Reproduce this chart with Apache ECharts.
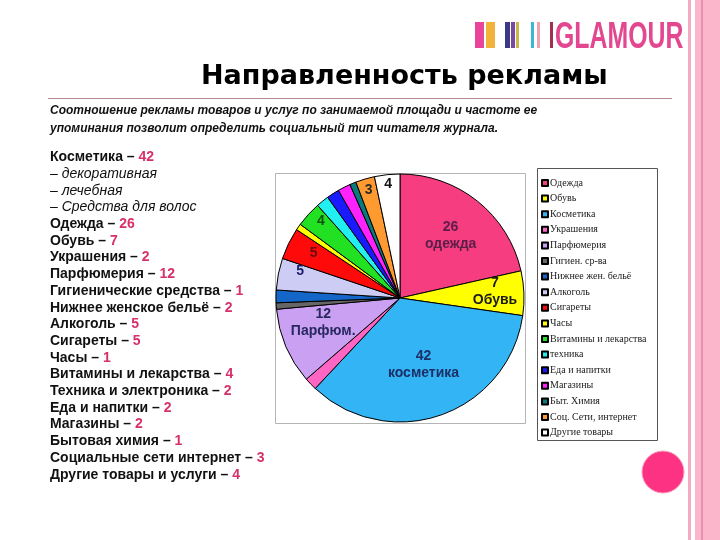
<!DOCTYPE html>
<html><head><meta charset="utf-8">
<script src="https://cdn.jsdelivr.net/npm/echarts@6/dist/echarts.min.js"></script>
<style>html,body{margin:0;padding:0;background:#fff}#c{width:720px;height:540px}</style>
</head><body><div id="c"></div>
<script>
// ---- data ----
const categories = ['Одежда','Обувь','Косметика','Украшения','Парфюмерия','Гигиен. ср-ва','Нижнее жен. бельё','Алкоголь','Сигареты','Часы','Витамины и лекарства','техника','Еда и напитки','Магазины','Быт. Химия','Соц. Сети, интернет','Другие товары'];
const values = [26,7,42,2,12,1,2,5,5,1,4,2,2,2,1,3,4];
const sliceLabels = ['одежда','Обувь','косметика',null,'Парфюм.',null,null,'','',null,'',null,null,null,null,'',''];
const listNames = ['Косметика','– декоративная','– лечебная','– Средства для волос','Одежда','Обувь','Украшения','Парфюмерия','Гигиенические средства','Нижнее женское бельё','Алкоголь','Сигареты','Часы','Витамины и лекарства','Техника и электроника','Еда и напитки','Магазины','Бытовая химия','Социальные сети интернет','Другие товары и услуги'];
const listValues = [42,null,null,null,26,7,2,12,1,2,5,5,1,4,2,2,2,1,3,4];
const titleText = 'Направленность рекламы';
const subtitleText = 'Соотношение рекламы товаров и услуг по занимаемой площади и частоте ее\nупоминания позволит определить социальный тип читателя журнала.';

// ---- styles ----
const sliceColors = ['#f53d80','#ffff00','#33b5f5','#ff66c4','#c9a0f2','#666666','#1467c8','#ccccf5','#ff0a0a','#ffff00','#22e022','#22f0f0','#1a1aff','#ff22ff','#0a7a7a','#ff9a30','#ffffff'];
const labelColors = ['#5a1e48','#1a1a1a','#1c2f66',null,'#282860',null,null,'#1c1c66','#6a0a0a',null,'#0e500e',null,null,null,null,'#2a2a2a','#111'];
const labelOffsets = [[10,-12],[30,-4],[2,5],null,[-17,-1],null,null,[-36,-14],[-28,-16],null,[-31,-33],null,null,null,null,[-13,-45],[-5,-49]];

const chart = echarts.init(document.getElementById('c'), null, {renderer:'canvas'});

const pieData = categories.map((n,i)=>{
  const d = {name:n, value:values[i], itemStyle:{color:sliceColors[i]}};
  if (sliceLabels[i] === null) {
    d.label = {show:false};
  } else {
    d.label = {show:true, position:'inside', offset:labelOffsets[i], color:labelColors[i],
      formatter: sliceLabels[i] ? '{c}\n' + sliceLabels[i] : '{c}'};
  }
  return d;
});

let listRich = '';
listNames.forEach((n,i)=>{
  if (listValues[i] === null) listRich += '{it|' + n + '}';
  else listRich += '{b|' + n + ' – }{v|' + listValues[i] + '}';
  if (i < listNames.length-1) listRich += '\n';
});

const logoBars = [
  [475,9,'#e8459a'],[486,9,'#f2b33a'],[505,5,'#3a3a88'],[511,4,'#7a4aa0'],[516,3,'#c9b84a'],
  [531,3,'#3ab8d8'],[537,3,'#f0a0b0'],[550,3,'#a03050']
];

const graphics = [
  // right decorative strips
  {type:'rect', shape:{x:688,y:0,width:3,height:540}, style:{fill:'#f6a9c3'}, silent:true},
  {type:'rect', shape:{x:695,y:0,width:25,height:540}, style:{fill:'#fbb6cc'}, silent:true},
  {type:'rect', shape:{x:701,y:0,width:2,height:540}, style:{fill:'#ea8fb0'}, silent:true},
  {type:'circle', shape:{cx:663,cy:472,r:21}, style:{fill:'#fd3282', stroke:'#f9a0c0', lineWidth:1}, silent:true},
  // title rule
  {type:'line', shape:{x1:48,y1:98.5,x2:672,y2:98.5}, style:{stroke:'#b58a90', lineWidth:1}, silent:true},
  // subtitle
  {type:'text', x:50, y:102, silent:true, style:{text:subtitleText, fill:'#111', font:'italic bold 12px "Liberation Sans", Arial, sans-serif', lineHeight:18}},
  // list
  {type:'text', x:50, y:149, silent:true, style:{text:listRich, lineHeight:16.7,
    rich:{
      b:{fill:'#111', font:'bold 14px "Liberation Sans", Arial, sans-serif', lineHeight:16.7},
      v:{fill:'#d6306c', font:'bold 14px "Liberation Sans", Arial, sans-serif', lineHeight:16.7},
      it:{fill:'#111', font:'italic 14px "Liberation Sans", Arial, sans-serif', lineHeight:16.7}
    }}},
  // pie plot frame
  {type:'rect', shape:{x:275.5,y:173.5,width:250,height:250}, style:{fill:'none', stroke:'#b5b5b5', lineWidth:1}, silent:true, z:-1},
  // legend frame
  {type:'rect', shape:{x:537.5,y:168.5,width:120,height:272}, style:{fill:'none', stroke:'#555', lineWidth:1}, silent:true},
  // logo text
  {type:'text', x:555, y:20, scaleX:0.69, silent:true, style:{text:'GLAMOUR', fill:'#e2478f', font:'bold 36px "Liberation Sans", sans-serif'}}
];
logoBars.forEach(b=>graphics.push({type:'rect', shape:{x:b[0],y:22,width:b[1],height:26}, style:{fill:b[2]}, silent:true}));

chart.setOption({
  backgroundColor:'#ffffff',
  animation:false,
  title:{text:titleText, left:196, top:58,
    textStyle:{fontFamily:'"DejaVu Sans", sans-serif', fontWeight:'bold', fontSize:27, color:'#000'}},
  legend:{orient:'vertical', left:536, top:173, icon:'rect', itemWidth:6, itemHeight:6, itemGap:5.6,
    data:categories, selectedMode:false,
    textStyle:{fontFamily:'"Liberation Serif", serif', fontSize:10, color:'#222', lineHeight:9.5, padding:[0,0,0,-3]}},
  graphic:graphics,
  series:[{
    type:'pie', center:[400,298], radius:124, startAngle:90, clockwise:true,
    avoidLabelOverlap:false, silent:true,
    itemStyle:{borderColor:'#000', borderWidth:1},
    label:{fontFamily:'"Liberation Sans", Arial, sans-serif', fontWeight:'bold', fontSize:14, lineHeight:17},
    labelLine:{show:false},
    emphasis:{disabled:true},
    data:pieData
  }]
});
</script>
</body></html>
